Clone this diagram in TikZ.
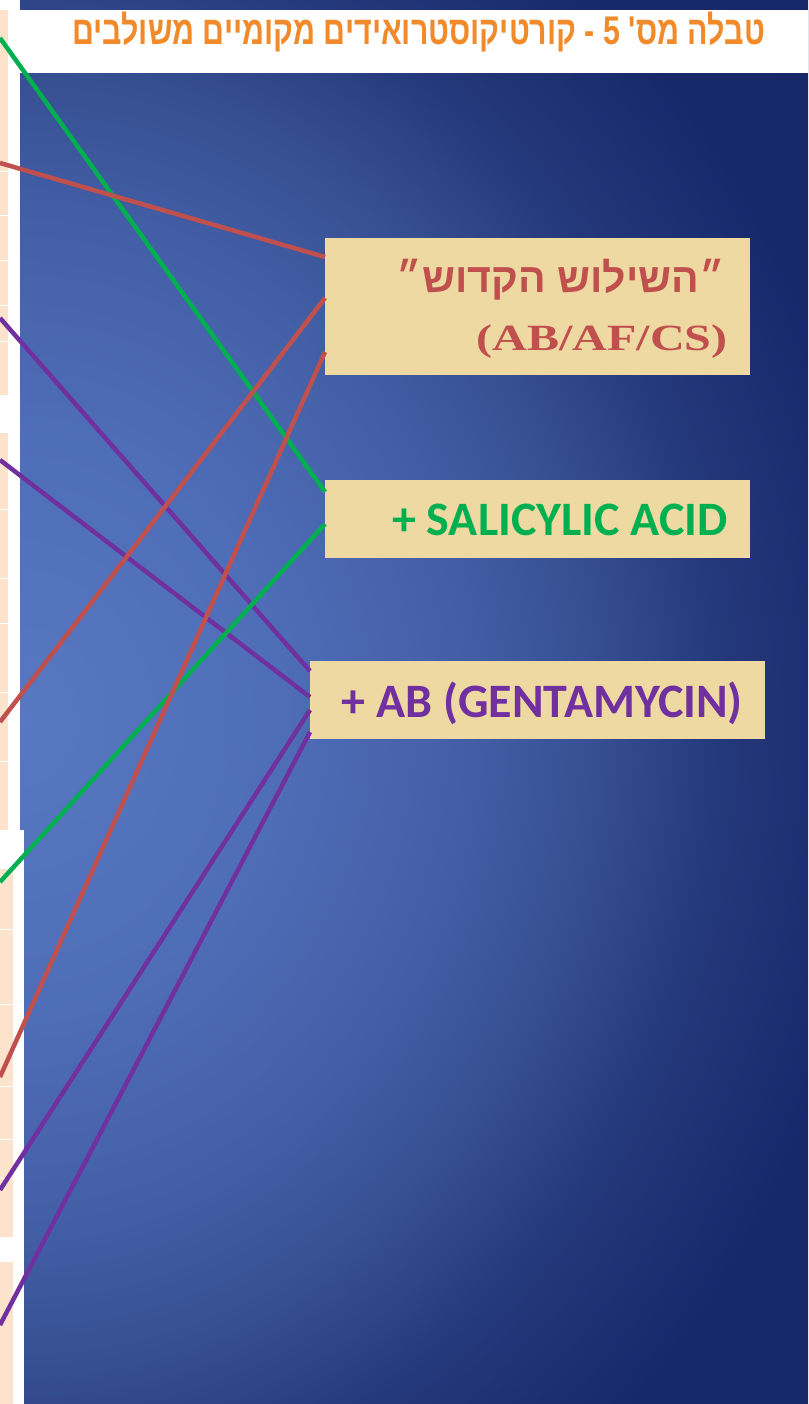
\documentclass[tikz,border=0pt]{standalone}
\usepackage{fontspec}
\newfontfamily\hebsans[Script=Hebrew]{Liberation Sans}
\newfontfamily\hebserif[Script=Hebrew]{Liberation Serif}
\newfontfamily\calib{Carlito}
\TeXXeTstate=1
\usepackage{xcolor}
\definecolor{papyrus}{HTML}{EFD9A3}
\definecolor{peach}{HTML}{FDE3CB}
\definecolor{titleorange}{HTML}{F08A2A}
\definecolor{redln}{HTML}{C0504D}
\definecolor{greenln}{HTML}{00B050}
\definecolor{purpleln}{HTML}{7030A0}
\pgfdeclareradialshading{slidebg}{\pgfpoint{0bp}{0bp}}{rgb(0bp)=(0.345,0.47,0.76); rgb(8bp)=(0.31,0.43,0.72); rgb(14bp)=(0.26,0.37,0.65); rgb(18bp)=(0.21,0.31,0.57); rgb(22bp)=(0.14,0.22,0.48); rgb(27bp)=(0.09,0.16,0.42); rgb(50bp)=(0.08,0.15,0.40)}

\begin{document}
\begin{tikzpicture}[x=1pt,y=-1pt,
  wire/.style={line width=4.5pt},
  papyrusbox/.style={fill=papyrus,draw=none,inner sep=0pt,anchor=north west},
  label/.style={anchor=base east,inner sep=0pt},
  cell/.style={fill=peach}]
  \useasboundingbox (0,0) rectangle (808,1404);
  \fill[white] (0,0) rectangle (808,1404);
  \begin{scope}
    \clip (20,0) rectangle (808,1404);
    \shade[shading=slidebg] (-780,-180) rectangle (820,1620);
  \end{scope}
  \fill[white] (0,830) rectangle (24,1404);
  \fill[white] (13,10) rectangle (808,73);
  \foreach \a/\b in {10/171,172/215,216/260,261/305,306/341,342/395,433/509,510/578,579/623,624/692,693/761,762/830}
    \fill[cell] (0,\a) rectangle (8,\b);
  \foreach \a/\b in {869/929,930/1004,1005/1086,1087/1139,1140/1178,1179/1237,1262/1404}
    \fill[cell] (0,\a) rectangle (13,\b);

  \node [label, text=titleorange, xscale=0.76] (title) at (765,45)
    {\hebsans\bfseries\fontsize{40}{44}\selectfont\beginR טבלה מס' 5 - קורטיקוסטרואידים מקומיים משולבים\endR};

  \node [papyrusbox, minimum width=425pt, minimum height=137pt] (trinity) at (325,238) {};
  \node [papyrusbox, minimum width=425pt, minimum height=78pt] (salic) at (325,480) {};
  \node [papyrusbox, minimum width=455pt, minimum height=78pt] (gent) at (310,661) {};

  \node [label, text=redln] (holy) at (725,293)
    {\hebsans\bfseries\fontsize{41}{44}\selectfont\beginR ״השילוש הקדוש״\endR};
  \node [label, text=redln, xscale=1.3] (holyabbr) at (728,350)
    {\hebserif\bfseries\fontsize{37}{40}\selectfont (AB/AF/CS)};
  \node [label, text=greenln] (saliclabel) at (728,535)
    {\calib\bfseries\fontsize{48}{50}\selectfont + SALICYLIC ACID};
  \node [label, text=purpleln] (gentlabel) at (743,717)
    {\calib\bfseries\fontsize{48}{50}\selectfont + AB (GENTAMYCIN)};

  \coordinate (g1) at (0,38);
  \coordinate (r1) at (0,163);
  \coordinate (p1) at (0,318);
  \coordinate (p2) at (0,460);
  \coordinate (r2) at (0,722);
  \coordinate (g2) at (0,882);
  \coordinate (r3) at (0,1077);
  \coordinate (p3) at (0,1190);
  \coordinate (p4) at (0,1325);

  \draw [wire, greenln] (g1) -- ([yshift=-12pt]salic.north west);
  \draw [wire, redln] (r1) -- ([yshift=-19pt]trinity.north west);
  \draw [wire, purpleln] (p1) -- ([yshift=-10pt]gent.north west);
  \draw [wire, purpleln] (p2) -- ([yshift=-36pt]gent.north west);
  \draw [wire, redln] (r2) -- ([yshift=-60pt]trinity.north west);
  \draw [wire, greenln] (g2) -- ([yshift=-44pt]salic.north west);
  \draw [wire, redln] (r3) -- ([yshift=-114pt]trinity.north west);
  \draw [wire, purpleln] (p3) -- ([yshift=-49pt]gent.north west);
  \draw [wire, purpleln] (p4) -- ([yshift=-71pt]gent.north west);
\end{tikzpicture}
\end{document}
